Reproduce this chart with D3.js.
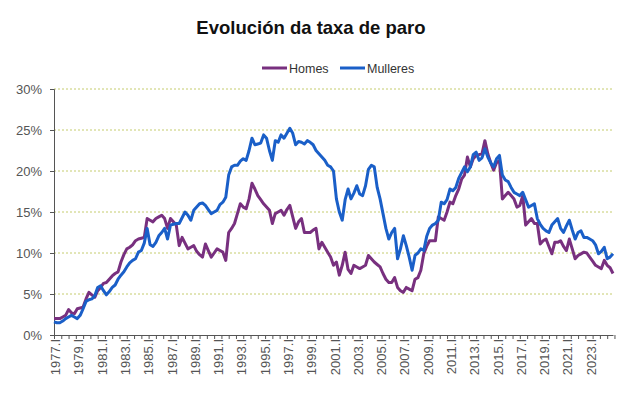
<!DOCTYPE html>
<html>
<head>
<meta charset="utf-8">
<script src="https://cdn.jsdelivr.net/npm/d3@7"></script>
<style>
  body { margin: 0; background: #fff; }
  svg { display: block; font-family: "Liberation Sans", Arial, sans-serif; }
</style>
</head>
<body>
<svg id="chart" width="628" height="397"></svg>
<script>
// Taxa de paro trimestral, 1977.I - 2025.I (%)
const homes = [
  2.0, 2.0, 2.0, 2.2, 2.4, 3.1, 2.7, 2.6,
  3.2, 3.3, 3.4, 4.4, 5.2, 4.9, 4.6, 5.4,
  5.8, 6.3, 6.4, 6.8, 7.2, 7.5, 7.7, 8.9,
  9.8, 10.5, 10.7, 11.0, 11.5, 11.7, 11.8, 11.9,
  14.2, 14.0, 13.8, 14.2, 14.4, 14.6, 14.2, 13.0,
  14.2, 13.8, 13.4, 10.9, 11.9, 11.2, 10.5, 10.7,
  10.9, 10.2, 9.8, 9.5, 11.1, 10.3, 9.5, 10.0,
  10.5, 10.3, 10.1, 9.1, 12.5, 13.0, 13.6, 14.8,
  16.0, 15.6, 15.4, 16.6, 18.5, 17.8, 17.0, 16.5,
  16.0, 15.6, 15.2, 13.6, 14.8, 15.0, 15.2, 14.6,
  15.3, 15.8, 14.4, 13.0, 13.8, 14.2, 12.5, 12.5,
  12.5, 12.8, 13.0, 10.5, 11.3, 10.7, 10.1, 9.5,
  8.5, 8.9, 7.3, 8.5, 10.1, 8.0, 7.5, 8.5,
  8.3, 8.1, 8.3, 8.5, 9.7, 9.3, 8.9, 8.6,
  8.3, 7.5, 6.8, 6.4, 6.4, 7.0, 5.8, 5.4,
  5.2, 5.8, 5.6, 5.4, 6.8, 7.0, 7.9, 9.9,
  10.8, 11.5, 11.5, 11.5, 14.4, 14.2, 14.0, 15.0,
  16.2, 16.0, 17.0, 17.8, 19.0, 19.5, 21.7, 20.5,
  21.5, 21.9, 22.0, 22.1, 23.7, 22.1, 21.0, 20.1,
  21.0, 21.3, 16.6, 17.0, 17.4, 17.0, 16.6, 15.6,
  15.8, 17.0, 13.4, 13.8, 14.2, 13.6, 13.6, 11.1,
  11.5, 11.7, 10.8, 9.9, 11.3, 11.3, 11.5, 10.8,
  10.3, 11.7, 10.5, 9.3, 9.7, 9.9, 10.1, 10.0,
  9.5, 9.0, 8.5, 8.3, 8.1, 9.1, 8.5, 8.2,
  7.5
];

const mulleres = [
  1.6, 1.5, 1.5, 1.7, 2.0, 2.2, 2.4, 2.2,
  2.0, 2.4, 3.2, 4.1, 4.3, 4.4, 4.8, 5.8,
  6.0, 5.4, 4.9, 5.3, 5.8, 6.1, 6.8, 7.3,
  7.7, 8.3, 8.8, 9.1, 9.3, 10.1, 10.3, 11.2,
  13.0, 11.0, 10.8, 11.3, 12.1, 12.5, 13.0, 11.7,
  13.4, 13.5, 13.6, 13.6, 14.3, 15.0, 14.6, 14.0,
  15.2, 15.6, 16.0, 16.1, 15.8, 15.3, 14.8, 15.0,
  15.2, 15.9, 16.2, 16.8, 19.5, 20.5, 20.7, 20.7,
  21.2, 21.5, 21.3, 22.5, 24.0, 23.2, 23.3, 23.4,
  24.4, 24.0, 22.5, 21.3, 23.7, 23.5, 24.4, 24.0,
  24.6, 25.2, 24.6, 23.2, 23.6, 23.5, 23.3, 23.7,
  23.5, 23.2, 22.5, 22.1, 21.7, 21.3, 20.7, 20.5,
  20.0, 16.6, 15.0, 14.0, 16.5, 17.8, 16.6, 17.3,
  18.2, 17.2, 17.0, 18.2, 20.2, 20.7, 20.5, 18.0,
  16.6, 14.8, 13.0, 11.7, 12.5, 13.0, 9.3, 10.5,
  12.1, 10.9, 9.5, 7.9, 9.7, 10.0, 10.5, 10.3,
  12.0, 13.0, 13.4, 13.6, 14.0, 16.2, 16.0, 16.5,
  17.8, 17.6, 18.0, 19.1, 19.8, 20.5, 19.9, 20.5,
  22.0, 22.3, 21.3, 21.6, 22.7, 21.7, 21.0, 20.5,
  21.5, 21.9, 19.5, 18.9, 18.7, 18.0, 17.4, 17.2,
  17.0, 17.4, 16.5, 15.6, 15.8, 16.0, 14.2, 13.5,
  13.0, 12.7, 12.5, 13.4, 13.8, 14.2, 13.0, 12.5,
  13.3, 14.0, 12.8, 11.7, 12.5, 12.7, 11.9, 11.9,
  11.7, 11.5, 11.0, 9.9, 10.2, 10.7, 9.3, 9.5,
  9.9
];

const tickLabels = [
  "1977.I", "1979.I", "1981.I", "1983.I", "1985.I", "1987.I", "1989.I", "1991.I",
  "1993.I", "1995.I", "1997.I", "1999.I", "2001.I", "2003.I", "2005.I", "2007.I",
  "2009.I", "2011.I", "2013.I", "2015.I", "2017.I", "2019.I", "2021.I", "2023.I"
];
const yTicks = [0, 5, 10, 15, 20, 25, 30];

const series = [
  { name: "Homes", values: homes, color: "#78307f" },
  { name: "Mulleres", values: mulleres, color: "#1a5fc8" }
];

const svg = d3.select("#chart");
const plotLeft = 54, plotRight = 613, plotTop = 89, plotBottom = 335;

const x = d3.scaleLinear().domain([0, homes.length - 1]).range([plotLeft, plotRight]);
const y = d3.scaleLinear().domain([0, 30]).range([plotBottom, plotTop]);

// title
svg.append("text")
  .attr("x", 311).attr("y", 34)
  .attr("text-anchor", "middle")
  .attr("font-size", 18.5).attr("font-weight", "bold")
  .attr("fill", "#111")
  .text("Evolución da taxa de paro");

// gridlines
svg.append("g")
  .selectAll("line")
  .data(yTicks.filter(d => d > 0))
  .join("line")
  .attr("x1", plotLeft).attr("x2", plotRight)
  .attr("y1", d => y(d)).attr("y2", d => y(d))
  .attr("stroke", "#c5cc6e")
  .attr("stroke-width", 1)
  .attr("stroke-dasharray", "2,2");

// y axis
const yAxis = svg.append("g")
  .attr("transform", `translate(${plotLeft},0)`)
  .call(d3.axisLeft(y).tickValues(yTicks).tickSize(4).tickPadding(8).tickFormat(d => d + "%"));
yAxis.select(".domain").attr("stroke", "#555");
yAxis.selectAll(".tick line").attr("stroke", "#555");
yAxis.selectAll("text").attr("font-size", 13).attr("fill", "#555").attr("font-family", null);

// x axis: small ticks, labels every 8 quarters
const xTickVals = d3.range(0, homes.length, 2.5);
const xAxis = svg.append("g")
  .attr("transform", `translate(0,${plotBottom})`)
  .call(d3.axisBottom(x).tickValues(xTickVals).tickSize(4).tickSizeOuter(0).tickFormat(""));
xAxis.select(".domain").attr("stroke", "#555");
xAxis.selectAll(".tick line").attr("stroke", "#555");

svg.append("g")
  .selectAll("text")
  .data(tickLabels)
  .join("text")
  .attr("transform", (d, i) => `translate(${x(i * 8) + 1.5},${plotBottom + 4}) rotate(-90)`)
  .attr("text-anchor", "end")
  .attr("dy", "0.35em")
  .attr("font-size", 13)
  .attr("fill", "#555")
  .text(d => d);

// lines
const line = d3.line()
  .x((d, i) => x(i))
  .y(d => y(d));

svg.append("g")
  .selectAll("path")
  .data(series)
  .join("path")
  .attr("d", d => line(d.values))
  .attr("fill", "none")
  .attr("stroke", d => d.color)
  .attr("stroke-width", 3)
  .attr("stroke-linejoin", "round");

// legend
const legend = svg.append("g");
const legendPos = [262, 340];
series.forEach((s, i) => {
  const g = legend.append("g").attr("transform", `translate(${legendPos[i]},68)`);
  g.append("line")
    .attr("x1", 0).attr("x2", 25)
    .attr("stroke", s.color).attr("stroke-width", 3);
  g.append("text")
    .attr("x", 27).attr("y", 4.5)
    .attr("font-size", 12.5).attr("fill", "#333")
    .text(s.name);
});
</script>
</body>
</html>
